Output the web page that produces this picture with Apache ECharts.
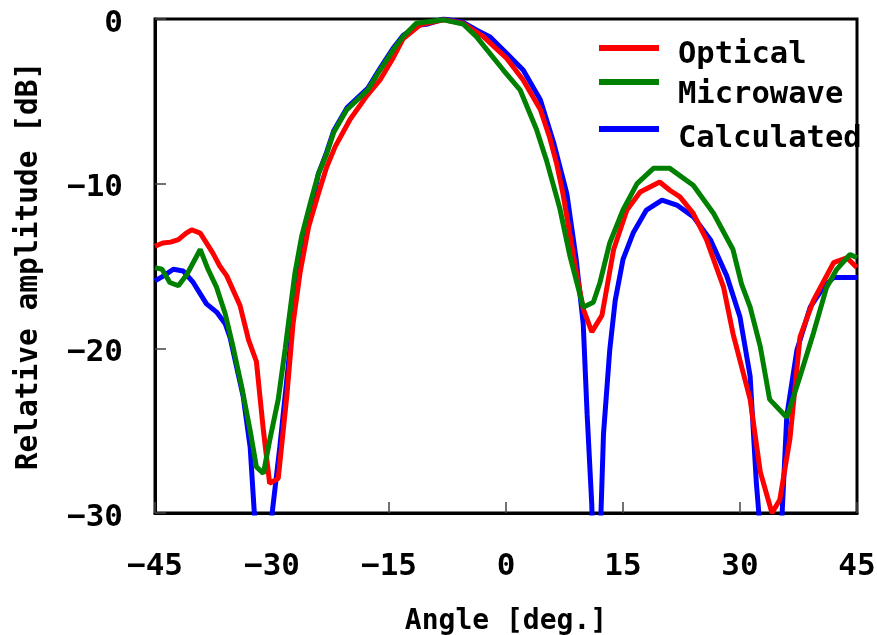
<!DOCTYPE html>
<html lang="en" style="height: 100%;width: 100%">
<head>
    <meta charset="utf-8">
</head>
<body style="height: 100%;width: 100%; margin: 0">
<div id="container" style="height: 635px;width: 877px;"></div>
<script type="text/javascript" src="https://cdn.jsdelivr.net/npm/echarts@6/dist/echarts.min.js"></script>
<script type="text/javascript">
    // values (angle in deg, amplitude in dB)
    var opticalAngle = [-45, -44, -43, -42, -41, -40.3, -39.2, -37.6, -36.7, -35.8, -34.1, -33, -32, -31.1, -30.3,
        -29.2, -28.1, -27.3, -26.4, -25.3, -24.05, -23, -21.9, -20, -17.9, -16.15, -14.4, -13.2, -11, -8,
        -5.5, -4.2, -2.9, 0.1, 2.2, 4.4, 5.6, 6.5, 7.3, 8.8, 9.9, 11, 12.3, 13.8, 15.5,
        17.2, 19.7, 21, 22.3, 24, 25.7, 27.9, 29.1, 31.3, 32.6, 34.1, 35.1, 36.4, 37.7, 39.4,
        42, 43.7, 45];
    var opticalDb = [-13.8, -13.6, -13.55, -13.4, -13.0, -12.8, -13.0, -14.2, -15.0, -15.6, -17.4, -19.5, -20.8, -25.0, -28.2,
        -27.9, -22.9, -18.5, -15.4, -12.6, -10.6, -9.0, -7.75, -6.1, -4.7, -3.7, -2.3, -1.2, -0.36, -0.05,
        -0.26, -0.67, -1.07, -2.4, -3.7, -5.5, -7.2, -8.8, -10.6, -14.8, -17.6, -19.0, -18.0, -14.0, -11.6,
        -10.5, -9.9, -10.4, -10.8, -11.8, -13.4, -16.3, -19.1, -23.1, -27.5, -30.0, -29.2, -25.5, -19.3, -17.1,
        -14.8, -14.5, -15.1];

    var microwaveAngle = [-45, -44.1, -43.1, -42, -40.9, -39.2, -38.2, -37.1, -36, -35, -33.9, -32.8, -32, -31.1, -30.3,
        -29.2, -28.3, -27.9, -27.05, -26.2, -25.1, -24.05, -23, -22.1, -20.4, -17.7, -16.15, -14.5, -13.2, -11.5,
        -8, -5.5, -3.8, -0.35, 1.8, 3.9, 5.2, 6.9, 8.2, 9.9, 11.2, 12.05, 13.3, 15, 16.8,
        18.9, 21, 24, 26.6, 29.1, 30.2, 31.3, 32.6, 33.8, 36, 37.7, 39.4, 41.1, 42.4, 44.1, 45];
    var microwaveDb = [-15.1, -15.2, -16.0, -16.2, -15.5, -14.0, -15.2, -16.3, -17.9, -19.9, -22.3, -25.0, -27.2, -27.6, -25.6,
        -23.1, -20.0, -18.5, -15.4, -13.2, -11.2, -9.4, -8.2, -6.9, -5.5, -4.3, -3.1, -1.9, -1.07, -0.26,
        -0.05, -0.3, -1.07, -3.1, -4.3, -6.7, -8.6, -11.5, -14.4, -17.5, -17.2, -16.0, -13.6, -11.6, -10.0,
        -9.07, -9.07, -10.1, -11.8, -14.0, -16.1, -17.5, -19.9, -23.1, -24.2, -21.7, -19.1, -16.3, -15.2, -14.3, -14.5];

    var calculatedAngle = [-45, -43.9, -42.65, -41.4, -40.1, -38.4, -37.1, -36, -35.4, -33.7, -32.8, -32.2, -31.1, -30.1, -29,
        -28.1, -26.8, -25.1, -24.05, -23, -22.1, -20.4, -17.7, -16.15, -14.5, -13.2, -11, -10, -8, -5.5,
        -3.8, -2.1, 0.1, 2.2, 4.4, 6.1, 7.8, 9, 9.9, 10.4, 11, 11.5, 12.5, 13.3, 14,
        15, 16.3, 18, 20, 21.9, 24, 26.2, 28.3, 30, 31.3, 32.1, 32.5, 34.3, 35.35, 36,
        37.3, 39, 40.7, 42, 45];
    var calculatedDb = [-15.9, -15.6, -15.2, -15.3, -16.0, -17.3, -17.8, -18.5, -19.3, -22.9, -26.0, -30.5, -40, -30.5, -26.0,
        -21.9, -15.8, -11.8, -9.4, -8.1, -6.8, -5.4, -4.2, -3.0, -1.8, -1.0, -0.36, -0.3, 0, -0.2,
        -0.67, -1.07, -2.1, -3.1, -4.9, -7.5, -10.6, -14.6, -18.5, -24.0, -29.5, -40, -25.2, -20.1, -17.1,
        -14.6, -13.0, -11.6, -11.0, -11.3, -12.0, -13.4, -15.6, -18.1, -21.7, -28.2, -30.5, -40, -30.5, -24.1,
        -20.1, -17.5, -16.3, -15.7, -15.7];

    var seriesNames = ['Optical', 'Microwave', 'Calculated'];
    var seriesColors = ['#ff0000', '#008000', '#0000ff'];
    var xTicks = {min: -45, max: 45, interval: 15};
    var yTicks = {min: -30, max: 0, interval: 10};

    function pairs(xs, ys) {
        var out = [];
        for (var i = 0; i < xs.length; i++) {
            out.push([xs[i], ys[i]]);
        }
        return out;
    }

    var font = 'DejaVu Sans Mono';

    function minus(v) {
        return String(v).replace('-', '\u2212');
    }

    // legend swatch: a 60x6 bar at the top of a taller box, so the label sits lower than the bar
    function legendFor(name, top, boxHeight) {
        return {
            data: [name],
            left: 599,
            top: top,
            padding: 0,
            itemWidth: 60,
            itemHeight: boxHeight,
            icon: 'path://M0,0H60V6H0Z M0,' + (boxHeight - 0.01) + 'H0.01V' + boxHeight + 'H0Z',
            selectedMode: false,
            textStyle: {
                fontFamily: font,
                fontWeight: 'bold',
                fontSize: 30.5,
                lineHeight: 18,
                color: '#000',
                padding: [0, 0, 0, 14]
            }
        };
    }

    var dom = document.getElementById('container');
    var myChart = echarts.init(dom, null, {renderer: 'canvas'});

    var option = {
        animation: false,
        backgroundColor: '#fff',
        color: seriesColors,
        grid: {
            left: 155,
            right: 20,
            top: 19,
            bottom: 122,
            show: true,
            borderColor: '#000',
            borderWidth: 3,
            containLabel: false,
            outerBoundsMode: 'none'
        },
        legend: [
            legendFor(seriesNames[0], 40, 21),
            legendFor(seriesNames[1], 79, 32),
            legendFor(seriesNames[2], 124, 27)
        ],
        xAxis: {
            type: 'value',
            min: xTicks.min,
            max: xTicks.max,
            interval: xTicks.interval,
            name: 'Angle [deg.]',
            nameLocation: 'middle',
            nameGap: 95,
            nameTextStyle: {fontFamily: font, fontWeight: 'bold', fontSize: 28, color: '#000'},
            axisLine: {onZero: false, lineStyle: {color: '#000', width: 3}},
            axisTick: {inside: true, length: 11, lineStyle: {color: '#444', width: 1.5}},
            axisLabel: {
                margin: 38,
                fontFamily: font,
                fontWeight: 'bold',
                fontSize: 31,
                color: '#000',
                formatter: minus
            },
            splitLine: {show: false}
        },
        yAxis: {
            type: 'value',
            min: yTicks.min,
            max: yTicks.max,
            interval: yTicks.interval,
            name: 'Relative amplitude [dB]',
            nameLocation: 'middle',
            nameGap: 111,
            nameTextStyle: {fontFamily: font, fontWeight: 'bold', fontSize: 29.5, color: '#000'},
            axisLine: {onZero: false, lineStyle: {color: '#000', width: 3}},
            axisTick: {inside: true, length: 11, lineStyle: {color: '#444', width: 1.5}},
            axisLabel: {
                margin: 32,
                fontFamily: font,
                fontWeight: 'bold',
                fontSize: 31,
                color: '#000',
                verticalAlign: 'top',
                lineHeight: 9,
                formatter: minus
            },
            splitLine: {show: false}
        },
        series: [
            {
                name: seriesNames[0],
                type: 'line',
                z: 3,
                data: pairs(opticalAngle, opticalDb),
                symbol: 'none',
                clip: true,
                lineStyle: {color: seriesColors[0], width: 5}
            },
            {
                name: seriesNames[1],
                type: 'line',
                z: 4,
                data: pairs(microwaveAngle, microwaveDb),
                symbol: 'none',
                clip: true,
                lineStyle: {color: seriesColors[1], width: 5}
            },
            {
                name: seriesNames[2],
                type: 'line',
                z: 2,
                data: pairs(calculatedAngle, calculatedDb),
                symbol: 'none',
                clip: true,
                lineStyle: {color: seriesColors[2], width: 5}
            }
        ]
    };
    myChart.setOption(option);
</script>
</body>
</html>
